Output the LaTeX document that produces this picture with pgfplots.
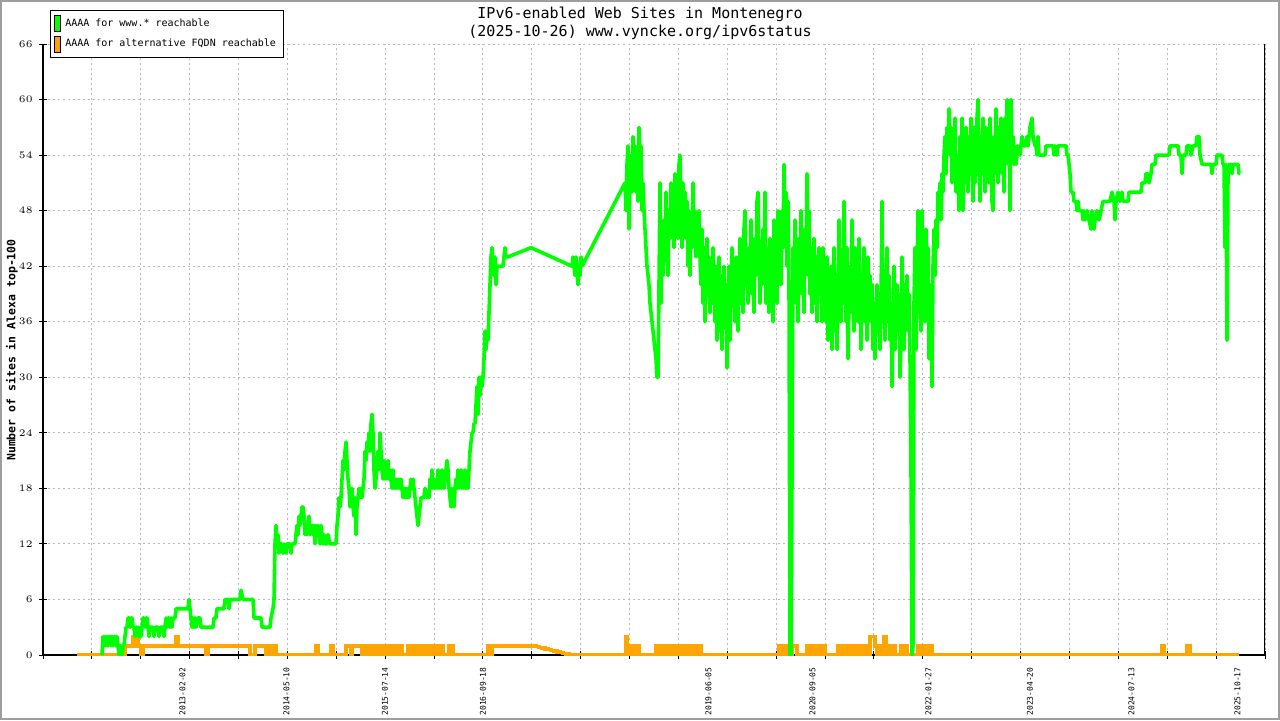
\documentclass[border=0pt]{standalone}
\usepackage{fontspec}
\setmainfont{DejaVu Sans Mono}
\usepackage{pgfplots}
\pgfplotsset{compat=1.18}
\definecolor{gpgreen}{RGB}{0,255,0}
\definecolor{gporange}{RGB}{255,165,0}
\newcommand\ticklab{\fontsize{4pt}{4.8pt}\selectfont}
\newcommand\legfont{\fontsize{5pt}{6pt}\selectfont}
\newcommand\ylabfont{\fontsize{5.75pt}{7pt}\selectfont\bfseries}
\newcommand\titlefont{\fontsize{7.5pt}{9pt}\selectfont}
\begin{document}
\begin{tikzpicture}
\useasboundingbox (0,0) rectangle (640pt,360pt);
\fill[white] (0,0) rectangle (640pt,360pt);
\begin{axis}[
  at={(21.5pt,32.5pt)}, anchor=south west,
  width=611pt, height=305.5pt, scale only axis,
  xmin=43, xmax=1265, ymin=0, ymax=66, enlargelimits=false,
  axis x line*=bottom, axis y line*=left,
  x axis line style={-}, y axis line style={-},
  axis line style={black, line width=0.6pt},
  xtick={43,91.88,140.76,189.64,238.52,287.4,336.28,385.16,434.04,482.92,531.8,580.68,629.56,678.44,727.32,776.2,825.08,873.96,922.84,971.72,1020.6,1069.48,1118.36,1167.24,1216.12,1265},
  xticklabels={},
  ytick={0,6,...,66},
  tick align=center, major tick length=4pt,
  tick style={black, line width=0.5pt},
  grid=major,
  major grid style={color=black!28, line width=0.5pt, dash pattern=on 1pt off 1.5pt},
  extra x ticks={182.5,286.5,385,483,708.5,812.5,928.5,1030,1131.5,1237.5},
  extra x tick labels={2013-02-02,2014-05-10,2015-07-14,2016-09-18,2019-06-05,2020-09-05,2022-01-27,2023-04-20,2024-07-13,2025-10-17},
  extra x tick style={major tick length=0pt, grid=none, xticklabel style={yshift=-5pt, rotate=90, anchor=east, font=\ticklab, inner sep=1pt}},
  yticklabel style={font=\ticklab, inner sep=1pt, xshift=-2pt},
  legend style={at={(rel axis cs:0.0057,1.0556)}, anchor=north west, draw=black, line width=0.5pt, font=\legfont, inner xsep=2pt, inner ysep=2pt, row sep=0.8pt, legend cell align=left},
  legend entries={AAAA for www.* reachable, AAAA for alternative FQDN reachable},
]
\addlegendimage{legend image code/.code={\draw[fill=gpgreen, draw=black, line width=0.4pt] (0pt,-4pt) rectangle (3pt,4pt);}}
\addlegendimage{legend image code/.code={\draw[fill=gporange, draw=black, line width=0.4pt] (0pt,-4pt) rectangle (3pt,4pt);}}
% orange: AAAA for alternative FQDN reachable
\addplot[gporange, line width=1.8pt, const plot, forget plot] table {
x y
77 0
125 1
133 2
135 1
137 2
138 1
141 0
143 1
176 2
178 1
206 0
208 1
250 0
255 1
266 0
268 1
270 0
274 1
276 0
316 1
318 0
331 1
333 0
346 1
351 0
352 1
362 0
364 1
366 0
367 1
369 0
370 1
372 0
374 1
375 0
377 1
379 0
380 1
382 0
384 1
385 0
387 1
388 0
390 1
392 0
394 1
395 0
397 1
398 0
400 1
402 0
408 1
409 0
410 1
412 0
413 1
415 0
416 1
418 0
419 1
421 0
422 1
424 0
426 1
427 0
429 1
431 0
432 1
433 0
435 1
437 0
438 1
440 0
441 1
443 0
449 1
450 0
451 1
453 0
488 1
491 0
492 1
533 1
536 0.92
539 0.83
542 0.75
545 0.67
548 0.58
551 0.5
554 0.42
557 0.33
560 0.25
563 0.17
566 0.08
569 0
626 2
627 1
628 0
629 1
630 0
632 1
633 0
635 1
636 0
638 1
639 0
656 1
658 0
659 1
661 0
662 1
665 0
667 1
668 0
669 1
671 0
675 1
677 0
678 1
680 0
681 1
683 0
684 1
686 0
688 1
689 0
690 1
692 0
693 1
695 0
696 1
698 0
699 1
701 0
779 1
783 0
784 1
787 0
792 1
797 0
807 1
809 0
810 1
812 0
813 1
815 0
816 1
818 0
820 1
821 0
824 1
825 0
838 1
840 0
841 1
843 0
844 1
846 0
847 1
849 0
850 1
853 0
856 1
858 0
859 1
861 0
862 1
865 0
866 1
868 0
870 2
875 1
877 0
878 1
880 0
881 1
883 0
884 2
886 1
888 0
889 1
891 0
892 1
895 0
901 1
903 0
905 1
907 0
909 0
918 1
920 0
921 1
923 0
924 1
926 0
927 1
929 0
930 1
932 0
1162 1
1164 0
1187 1
1190 0
1239 0
};
% green: AAAA for www.* reachable
\addplot[gpgreen, line width=1.8pt, line join=round, forget plot] table {
x y
102 0
103 2
104 1
105 2
106 1
107 2
108 1
109 2
110 2
111 1
112 2
113 1
114 2
115 2
116 1
117 2
118 1
119 0
120 1
121 1
122 0
123 1
124 1
125 2
126 3
127 3
128 4
129 4
130 3
131 4
132 4
133 3
134 3
135 2
136 3
137 3
138 2
139 3
140 2
141 2
142 3
143 4
144 4
145 3
146 4
147 4
148 3
149 2
150 3
153 3
154 2
155 3
158 3
159 2
160 3
163 3
164 2
165 3
166 4
167 3
168 4
169 4
170 3
171 4
172 3
173 4
175 4
176 5
188 5
189 6
190 5
191 4
192 3
193 4
194 3
195 4
196 3
198 4
200 4
201 3
213 3
214 4
216 4
217 5
224 5
225 6
228 6
229 5
230 6
240 6
241 7
243 6
253 6
254 4
261 4
262 3
270 3
271 4
273 5
274 6
275 12
276 14
277 12
278 13
279 11
280 12
282 12
283 11
284 12
286 11
287 12
290 12
291 11
292 12
295 12
296 13
297 14
298 13
299 15
300 14
301 15
302 16
303 16
304 15
305 13
306 14
307 13
308 14
309 15
310 13
312 14
313 13
314 14
315 12
316 14
317 13
318 14
319 13
320 12
321 14
322 13
323 12
324 13
325 12
327 12
328 13
330 12
336 12
337 14
338 15
339 17
340 16
341 17
342 19
343 21
344 20
345 22
346 23
347 21
348 19
349 18
350 16
351 17
352 18
353 16
354 15
355 17
356 13
357 16
358 17
359 18
360 17
361 18
362 17
363 18
364 19
365 22
366 21
367 23
368 22
369 24
370 22
371 25
372 26
373 24
374 20
375 18
376 19
377 21
378 22
379 20
380 24
381 22
382 20
383 19
384 21
385 19
386 20
387 19
388 21
389 19
390 20
391 19
392 18
393 20
394 18
395 19
396 18
397 19
398 18
399 19
400 18
401 19
402 18
403 17
404 18
405 17
406 18
407 17
408 18
409 17
410 18
411 19
412 18
413 19
414 18
415 17
416 16
417 15
418 14
419 15
420 16
421 17
422 17
424 17
425 18
427 17
429 17
430 19
431 18
432 20
433 18
434 19
435 18
436 19
437 18
438 20
439 18
440 19
441 18
442 20
443 19
444 18
445 19
446 20
447 21
448 20
449 18
450 17
451 16
452 18
453 17
454 16
455 18
456 19
457 18
458 20
459 18
460 19
461 20
462 18
463 19
464 18
465 20
466 18
467 19
468 18
469 20
470 22
471 23
472 24
473 24
474 25
475 25
476 27
477 29
478 26
479 30
480 28
481 30
482 29
483 30
484 32
485 35
486 33
487 35
488 34
489 37
490 40
491 43
492 44
493 42
494 41
495 43
496 40
497 42
498 42
503 42
504 43
505 44
506 43
508 43
531 44
572 42
573 43
574 42
575 41
576 43
577 42
578 40
579 42
580 41
581 43
582 42
625 51
626 48
627 53
628 55
629 46
630 52
631 54
632 50
633 56
634 52
635 55
636 50
637 54
638 49
639 57
640 53
641 55
642 48
643 51
644 48
645 46
646 44
647 42
648 41
649 40
650 38
651 37
652 36
653 35
654 34
655 33
656 32
657 30
658 30
659 40
660 51
661 38
662 46
663 41
664 47
665 44
666 50
667 43
668 41
669 48
670 45
671 51
672 46
673 49
674 44
675 52
676 47
677 50
678 45
679 53
680 54
681 48
682 44
683 51
684 47
685 50
686 45
687 49
688 42
689 48
690 41
691 47
692 44
693 51
694 45
695 48
696 43
697 47
698 44
699 48
700 43
701 40
702 46
703 38
704 44
705 36
706 41
707 45
708 39
709 43
710 37
711 42
712 38
713 44
714 40
715 36
716 42
717 34
718 39
719 43
720 35
721 41
722 33
723 38
724 42
725 36
726 40
727 31
728 37
729 42
730 34
731 39
732 44
733 38
734 41
735 36
736 43
737 39
738 35
739 41
740 45
741 38
742 42
743 37
744 46
745 48
746 40
747 43
748 38
749 44
750 41
751 47
752 39
753 43
754 37
755 45
756 41
757 49
758 50
759 43
760 38
761 44
762 40
763 46
764 42
765 50
766 38
767 44
768 41
769 37
770 45
771 39
772 43
773 36
774 47
775 41
776 45
777 38
778 48
779 42
780 46
781 40
782 48
783 44
784 53
785 46
786 50
787 42
788 49
789 40
790 0
791 0
792 19
793 44
794 41
795 47
796 38
797 43
798 36
799 45
800 40
801 48
802 39
803 44
804 37
805 46
806 42
807 52
808 41
809 48
810 39
811 44
812 37
813 42
814 45
815 38
816 43
817 36
818 41
819 44
820 39
821 42
822 36
823 44
824 38
825 41
826 36
827 43
828 34
829 40
830 37
831 42
832 33
833 39
834 44
835 35
836 41
837 33
838 38
839 47
840 40
841 36
842 43
843 38
844 49
845 41
846 36
847 44
848 32
849 38
850 42
851 37
852 47
853 39
854 35
855 44
856 38
857 42
858 36
859 45
860 39
861 33
862 41
863 37
864 44
865 36
866 40
867 34
868 43
869 38
870 41
871 36
872 40
873 33
874 38
875 32
876 37
877 40
878 35
879 39
880 33
881 38
882 49
883 36
884 40
885 34
886 39
887 44
888 36
889 41
890 34
891 38
892 29
893 36
894 42
895 33
896 38
897 40
898 35
899 39
900 30
901 34
902 43
903 38
904 33
905 40
906 37
907 41
908 35
909 39
910 32
911 20
912 0
913 1
914 38
915 44
916 33
917 40
918 48
919 37
920 42
921 35
922 48
923 39
924 43
925 36
926 46
927 38
928 44
929 32
930 40
931 36
932 29
933 42
934 46
935 41
936 47
937 44
938 50
939 48
940 51
941 47
942 52
943 50
944 54
945 56
946 52
947 57
948 55
949 59
950 54
951 57
952 51
953 56
954 53
955 58
956 50
957 54
958 52
959 48
960 56
961 52
962 58
963 48
964 55
965 51
966 57
967 53
968 50
969 56
970 52
971 58
972 54
973 49
974 57
975 51
976 55
977 58
978 60
979 53
980 49
981 56
982 52
983 58
984 54
985 50
986 57
987 53
988 55
989 51
990 58
991 54
992 49
993 48
994 56
995 52
996 59
997 55
998 51
999 57
1000 53
1001 58
1002 52
1003 56
1004 50
1005 58
1006 55
1007 60
1008 53
1009 57
1010 48
1011 60
1012 54
1013 56
1014 53
1015 55
1016 53
1017 54
1018 55
1020 54
1021 55
1022 56
1024 55
1026 55
1027 56
1028 55
1030 57
1032 58
1033 56
1035 55
1036 55
1037 54
1038 56
1039 54
1045 54
1046 55
1053 55
1054 54
1055 55
1057 54
1058 55
1066 55
1067 54
1068 54
1069 53
1070 52
1071 50
1073 50
1074 49
1076 49
1077 48
1078 49
1079 48
1082 48
1083 47
1084 48
1085 47
1087 48
1089 47
1091 46
1092 48
1094 46
1095 47
1097 48
1099 47
1101 48
1103 49
1110 49
1112 50
1114 49
1115 47
1116 49
1118 50
1120 49
1122 50
1123 49
1128 49
1129 50
1139 50
1141 50
1142 51
1145 51
1146 52
1148 52
1149 51
1151 52
1152 53
1155 53
1156 54
1169 54
1170 55
1178 55
1179 54
1181 54
1182 52
1183 54
1186 54
1187 55
1190 55
1191 54
1193 55
1196 55
1197 56
1199 56
1200 54
1202 53
1211 53
1212 52
1213 53
1216 53
1217 54
1222 54
1223 53
1224 53
1225 44
1226 53
1227 34
1228 52
1229 53
1231 53
1232 52
1233 53
1238 53
1239 52
1240 52
};
\draw[black, line width=0.6pt] (rel axis cs:1,0) -- (rel axis cs:1,1);
\end{axis}
\node[font=\ylabfont, rotate=90, anchor=center] at (6pt,185pt) {Number of sites in Alexa top-100};
\node[font=\titlefont, align=center] at (320pt,348.5pt) {IPv6-enabled Web Sites in Montenegro\\(2025-10-26) www.vyncke.org/ipv6status};
\draw[black!38, line width=1pt] (0.5pt,0.5pt) rectangle (639.5pt,359.5pt);
\end{tikzpicture}
\end{document}
